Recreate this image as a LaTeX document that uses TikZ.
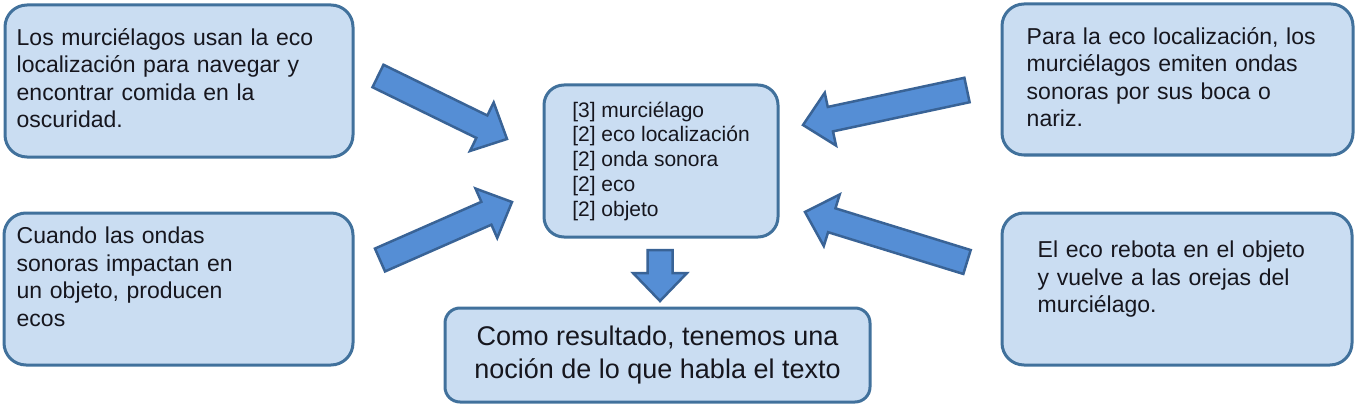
\documentclass[tikz,border=0pt]{standalone}
\usepackage{fontspec}
\setmainfont{Liberation Sans}
\usepackage{xcolor}
\usetikzlibrary{calc,positioning}
\definecolor{boxfill}{RGB}{202, 221, 242}
\definecolor{boxline}{RGB}{65, 113, 156}
\definecolor{arrowfill}{RGB}{85, 142, 213}
\definecolor{arrowline}{RGB}{57, 99, 150}
\definecolor{inktext}{RGB}{22, 22, 30}
\tikzset{
  infobox/.style={draw=boxline, fill=boxfill, line width=3pt, rounded corners=22pt, inner sep=0pt},
  infotext/.style={anchor=base west, inner sep=0pt, text width=330pt, align=left, text=inktext,
    font=\fontsize{23}{27.5}\selectfont},
  blockarrow/.style={draw=arrowline, fill=arrowfill, line width=2.5pt, line join=miter,
    to path={
      ($(\tikztostart)!12.5pt!90:(\tikztotarget)$)
      -- ($(\tikztotarget)!28pt!(\tikztostart)!12.5pt!-90:(\tikztostart)$)
      -- ($(\tikztotarget)!28pt!(\tikztostart)!27pt!-90:(\tikztostart)$)
      -- (\tikztotarget)
      -- ($(\tikztotarget)!28pt!(\tikztostart)!27pt!90:(\tikztostart)$)
      -- ($(\tikztotarget)!28pt!(\tikztostart)!12.5pt!90:(\tikztostart)$)
      -- ($(\tikztostart)!12.5pt!-90:(\tikztotarget)$)
      -- cycle
    }}
}

\begin{document}
\begin{tikzpicture}[x=1pt, y=-1pt]
  \useasboundingbox (0,0) rectangle (1357,409);
  % ---------- corner boxes ----------
  \node[infobox, minimum width=348pt, minimum height=152pt] (tlbox) at (179,81) {};
  \node[infobox, minimum width=351pt, minimum height=151pt] (trbox) at (1177.5,79.5) {};
  \node[infobox, minimum width=349pt, minimum height=152pt] (blbox) at (178.5,289) {};
  \node[infobox, minimum width=350pt, minimum height=152pt] (brbox) at (1177,289) {};
  \node[infotext] (tltext) at ($(tlbox.north west)+(13,42)$)
    {Los murciélagos usan la eco\\localización para navegar y\\encontrar comida en la\\oscuridad.};
  \node[infotext] (trtext) at ($(trbox.north west)+(26,42)$)
    {Para la eco localización, los\\murciélagos emiten ondas\\sonoras por sus boca o\\nariz.};
  \node[infotext] (bltext) at ($(blbox.north west)+(14,32)$)
    {Cuando las ondas\\sonoras impactan en\\un objeto, producen\\ecos};
  \node[infotext] (brtext) at ($(brbox.north west)+(37,46)$)
    {El eco rebota en el objeto\\y vuelve a las orejas del\\murciélago.};
  % ---------- centre and result ----------
  \node[infobox, rounded corners=20pt, minimum width=234pt, minimum height=152pt,
    align=left, text=inktext, font=\fontsize{21}{24.75}\selectfont] (words) at (661,161)
    {[3] murciélago\\{[2]} eco localización\\{[2]} onda sonora\\{[2]} eco\\{[2]} objeto};
  \node[infobox, rounded corners=15pt, minimum width=425pt, minimum height=94pt,
    align=center, text=inktext, font=\fontsize{27}{33}\selectfont] (result) at (657.5,355)
    {Como resultado, tenemos una\\noción de lo que habla el texto};
  % ---------- block arrows ----------
  \coordinate (tlfrom) at (378,76);
  \coordinate (tlto) at (507,139);
  \coordinate (trfrom) at (967,90);
  \coordinate (trto) at (803,125);
  \coordinate (blfrom) at (380,260);
  \coordinate (blto) at (512,202);
  \coordinate (brfrom) at (967,262);
  \coordinate (brto) at (805,212);
  \coordinate (downfrom) at (660,250);
  \coordinate (downto) at (660,301);
  \draw[blockarrow] (tlfrom) to (tlto);
  \draw[blockarrow] (trfrom) to (trto);
  \draw[blockarrow] (blfrom) to (blto);
  \draw[blockarrow] (brfrom) to (brto);
  \draw[blockarrow] (downfrom) to (downto);
\end{tikzpicture}
\end{document}
